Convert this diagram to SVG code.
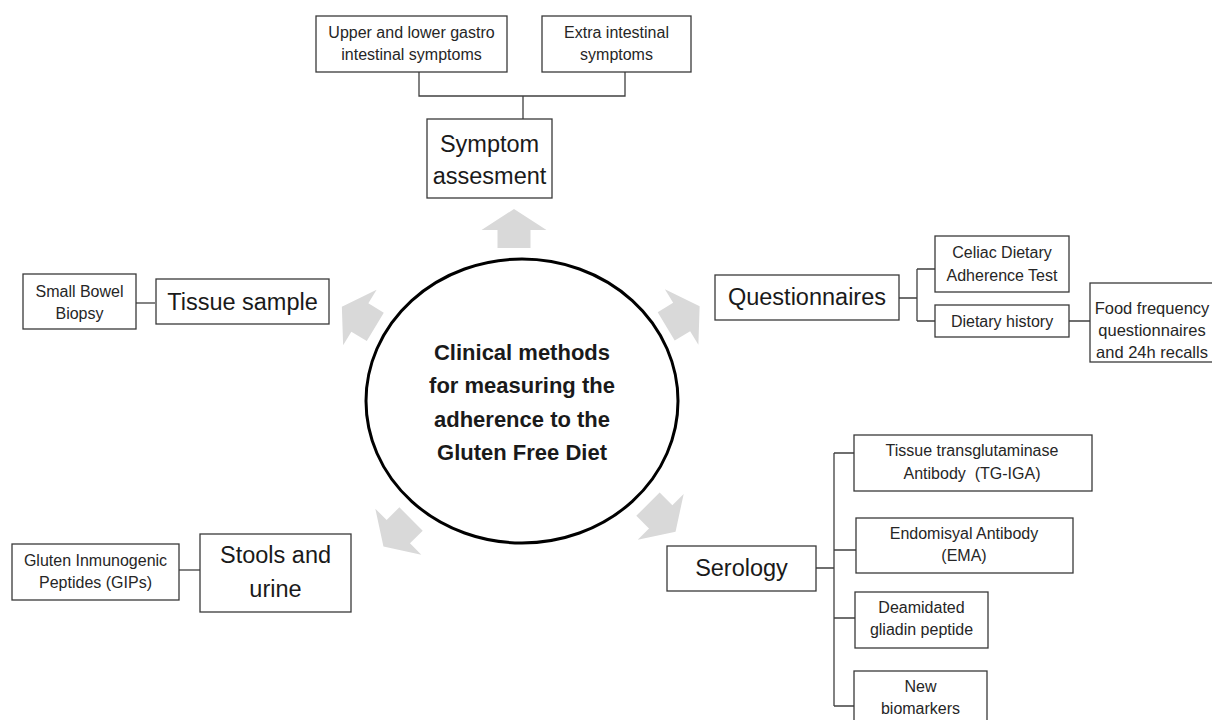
<svg xmlns="http://www.w3.org/2000/svg" width="1212" height="720" viewBox="0 0 1212 720">
<style>
.box{fill:#fff;stroke:#3a3a3a;stroke-width:1.3}
.conn{fill:none;stroke:#404040;stroke-width:1.3}
.sm{font-family:"Liberation Sans",Arial,sans-serif;font-size:16px;fill:#262626;text-anchor:middle}
.fd{font-family:"Liberation Sans",Arial,sans-serif;font-size:16.5px;fill:#262626;text-anchor:middle}
.lg{font-family:"Liberation Sans",Arial,sans-serif;font-size:23.5px;fill:#1a1a1a;text-anchor:middle}
.ct{font-family:"Liberation Sans",Arial,sans-serif;font-size:22px;font-weight:bold;fill:#1a1a1a;text-anchor:middle}
.arr{fill:#d9d9d9}
</style>
<defs>
<path id="blk" d="M0,-20 L32.5,1 L16.5,1 L16.5,19 L-16.5,19 L-16.5,1 L-32.5,1 Z"/>
</defs>
<rect width="1212" height="720" fill="#fff"/>

<g id="arrows" class="arr">
<use href="#blk" transform="translate(514,229)"/>
<use href="#blk" transform="translate(359,317) rotate(-59)"/>
<use href="#blk" transform="translate(682.5,316.5) rotate(59)"/>
<use href="#blk" transform="translate(397.6,532.4) rotate(-135)"/>
<use href="#blk" transform="translate(661.4,517.6) rotate(135)"/>
</g>

<g id="connectors" class="conn">
<path d="M419,72 V96 H625 V72 M523,96 V119"/>
<path d="M899,298 H917 M917,269 V321 M917,269 H935 M917,321 H935 M1069,321 H1090"/>
<path d="M155,303 H136"/>
<path d="M816,568 H834 M834,453 V706 M834,453 H854 M834,550 H856 M834,618 H855 M834,706 H854"/>
<path d="M179,570 H200"/>
</g>

<g id="center">
<ellipse cx="522" cy="401" rx="156" ry="142" fill="#fff" stroke="#000" stroke-width="3"/>
<text class="ct" x="522" y="360">Clinical methods</text>
<text class="ct" x="522" y="393">for measuring the</text>
<text class="ct" x="522" y="427">adherence to the</text>
<text class="ct" x="522" y="460">Gluten Free Diet</text>
</g>

<g id="upper-lower-gi">
<rect class="box" x="316" y="16" width="191" height="56"/>
<text class="sm" x="411.5" y="38">Upper and lower gastro</text>
<text class="sm" x="411.5" y="60">intestinal symptoms</text>
</g>
<g id="extra-intestinal">
<rect class="box" x="542" y="16" width="149" height="56"/>
<text class="sm" x="616.5" y="38">Extra intestinal</text>
<text class="sm" x="616.5" y="60">symptoms</text>
</g>
<g id="symptom-assesment">
<rect class="box" x="427" y="119" width="125" height="79"/>
<text class="lg" x="489.5" y="152">Symptom</text>
<text class="lg" x="489.5" y="184">assesment</text>
</g>

<g id="questionnaires">
<rect class="box" x="715" y="275" width="184" height="45"/>
<text class="lg" x="807" y="305">Questionnaires</text>
</g>
<g id="cdat">
<rect class="box" x="935" y="236" width="134" height="56"/>
<text class="sm" x="1002" y="258">Celiac Dietary</text>
<text class="sm" x="1002" y="281">Adherence Test</text>
</g>
<g id="dietary-history">
<rect class="box" x="935" y="305" width="134" height="32"/>
<text class="sm" x="1002" y="327">Dietary history</text>
</g>
<g id="food-frequency">
<rect class="box" x="1090" y="283" width="130" height="79"/>
<text class="fd" x="1152" y="314">Food frequency</text>
<text class="fd" x="1152" y="336">questionnaires</text>
<text class="fd" x="1152" y="358">and 24h recalls</text>
</g>

<g id="small-bowel-biopsy">
<rect class="box" x="23" y="274" width="113" height="55"/>
<text class="sm" x="79.5" y="297">Small Bowel</text>
<text class="sm" x="79.5" y="319">Biopsy</text>
</g>
<g id="tissue-sample">
<rect class="box" x="156" y="279" width="173" height="45"/>
<text class="lg" x="242.5" y="310">Tissue sample</text>
</g>

<g id="serology">
<rect class="box" x="667" y="546" width="149" height="45"/>
<text class="lg" x="741.5" y="576">Serology</text>
</g>
<g id="tg-iga">
<rect class="box" x="854" y="435" width="238" height="56"/>
<text class="sm" x="972" y="456">Tissue transglutaminase</text>
<text class="sm" x="972" y="479" xml:space="preserve">Antibody  (TG-IGA)</text>
</g>
<g id="ema">
<rect class="box" x="856" y="518" width="217" height="55"/>
<text class="sm" x="964" y="539">Endomisyal Antibody</text>
<text class="sm" x="964" y="561">(EMA)</text>
</g>
<g id="dgp">
<rect class="box" x="855" y="592" width="133" height="56"/>
<text class="sm" x="921.5" y="613">Deamidated</text>
<text class="sm" x="921.5" y="635">gliadin peptide</text>
</g>
<g id="new-biomarkers">
<rect class="box" x="854" y="671" width="133" height="55"/>
<text class="sm" x="920.5" y="692">New</text>
<text class="sm" x="920.5" y="714">biomarkers</text>
</g>

<g id="gips">
<rect class="box" x="12" y="544" width="167" height="56"/>
<text class="sm" x="95.5" y="566">Gluten Inmunogenic</text>
<text class="sm" x="95.5" y="588">Peptides (GIPs)</text>
</g>
<g id="stools-urine">
<rect class="box" x="200" y="534" width="151" height="78"/>
<text class="lg" x="275.5" y="563">Stools and</text>
<text class="lg" x="275.5" y="597">urine</text>
</g>
</svg>
